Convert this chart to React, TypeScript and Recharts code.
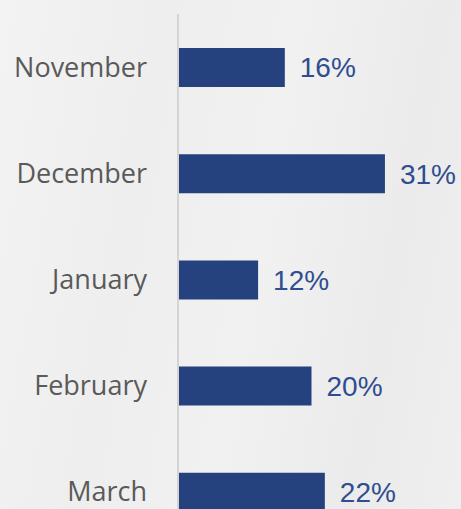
import React from "react";
import { BarChart, Bar, XAxis, YAxis, LabelList } from "recharts";

const months = ["November", "December", "January", "February", "March"];
const shares = [16, 31, 12, 20, 22];

const data = months.map((m, i) => ({ month: m, share: shares[i] }));

export default function App() {
  return (
    <div
      style={{
        position: "fixed",
        left: 0,
        top: 0,
        width: 461,
        height: 509,
        overflow: "hidden",
        background:
          "linear-gradient(100deg, #f3f3f3 0%, #eeeeee 30%, #f1f1f1 55%, #ebebeb 80%, #efefef 100%)",
      }}
    >
      <BarChart
        width={461}
        height={545}
        data={data}
        layout="vertical"
        margin={{ top: 14, right: 16, left: 0, bottom: 0 }}
      >
        <XAxis type="number" domain={[0, 40]} hide />
        <YAxis
          type="category"
          dataKey="month"
          width={178}
          tickLine={false}
          tickSize={0}
          tickMargin={31}
          axisLine={{ stroke: "#d4d4d4", strokeWidth: 2 }}
          tick={{ fill: "#5a5a5a", fontSize: 27, fontFamily: "Open Sans" }}
        />
        <Bar dataKey="share" fill="#25427e" barSize={39} isAnimationActive={false}>
          <LabelList
            dataKey="share"
            position="right"
            offset={15}
            formatter={(v: number) => `${v}%`}
            fill="#2f4d8f"
            fontSize={28}
            fontWeight={400}
            fontFamily="Liberation Sans, Arial"
          />
        </Bar>
      </BarChart>
    </div>
  );
}
